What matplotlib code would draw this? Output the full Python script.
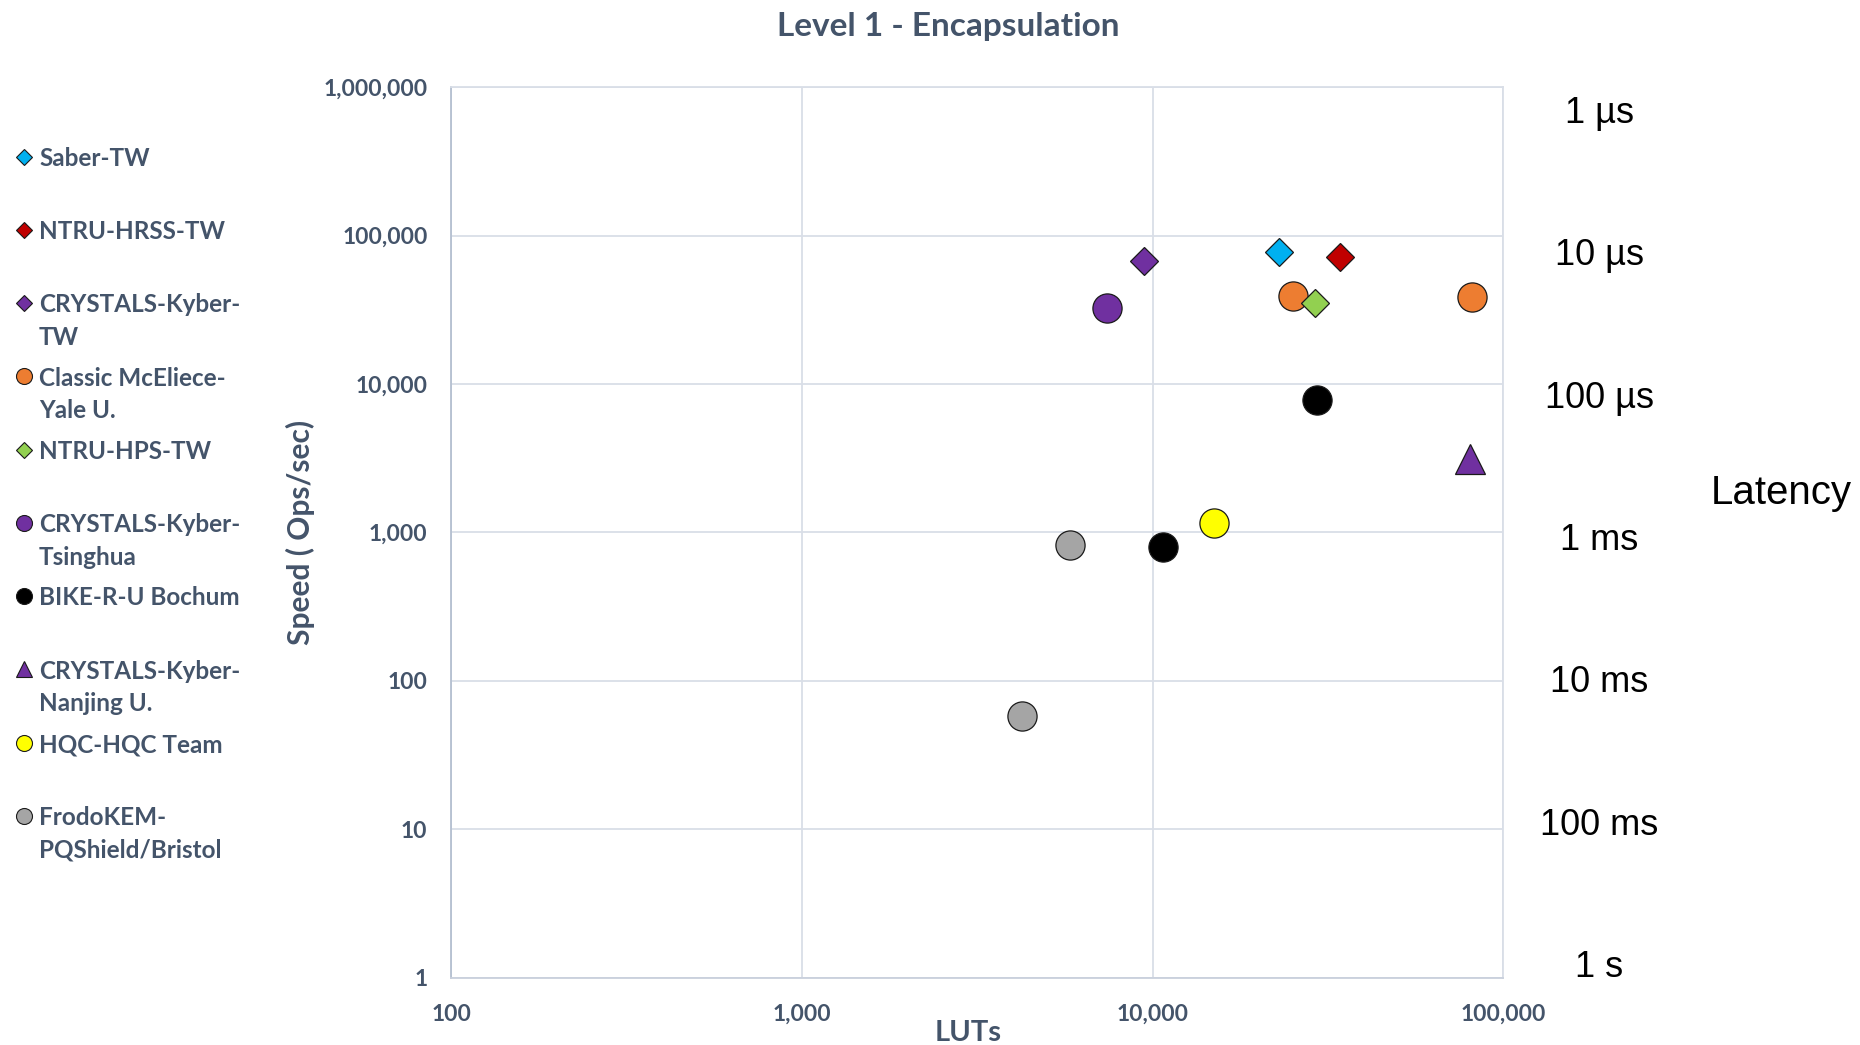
import matplotlib
matplotlib.use("Agg")
import matplotlib.pyplot as plt
from matplotlib.ticker import FuncFormatter, FixedLocator, NullLocator

# ── Dati (LUTs, Ops/sec) ─────────────────────────────────────────────────────

NAMES = ["Saber-TW", "NTRU-HRSS-TW", "CRYSTALS-Kyber-\nTW", "Classic McEliece-\nYale U.",
         "NTRU-HPS-TW", "CRYSTALS-Kyber-\nTsinghua", "BIKE-R-U Bochum",
         "CRYSTALS-Kyber-\nNanjing U.", "HQC-HQC Team", "FrodoKEM-\nPQShield/Bristol"]
LUTS = [[22900], [34300], [9460], [25200, 81300], [29100], [7390],
        [29400, 10700], [80100], [15000], [5800, 4240]]
OPS = [[78000], [71600], [67600], [39400, 38600], [35100], [32700],
       [7830, 798], [3130], [1150], [822, 58]]
MARKERS = ["D", "D", "D", "o", "D", "o", "o", "^", "o", "o"]
COLORS = ["#00B0F0", "#C00000", "#7030A0", "#ED7D31", "#92D050", "#7030A0",
          "#000000", "#7030A0", "#FFFF00", "#A5A5A5"]

X_TICKS = [100, 1000, 10000, 100000]
Y_TICKS = [1, 10, 100, 1000, 10000, 100000, 1000000]
LATENCY = ["1 µs", "10 µs", "100 µs", "1 ms", "10 ms", "100 ms", "1 s"]

TXT = "#44546A"
GRID = "#D9DEE7"
BOLD = dict(family="Lato", fontweight="bold", color=TXT)
MS = {"o": 21, "D": 14.5, "^": 21}
MS_LEG = {"o": 11.5, "D": 8, "^": 11.5}

fig = plt.figure(figsize=(18.6, 10.45), dpi=100)
ax = fig.add_axes([0.2425, 0.0644, 0.5658, 0.8521])

for xs, ys, m, c in zip(LUTS, OPS, MARKERS, COLORS):
    ax.plot(xs, ys, linestyle="none", marker=m, ms=MS[m], mfc=c,
            mec="#1a1a1a", mew=0.9, zorder=3)

ax.set_xscale("log")
ax.set_yscale("log")
ax.set_xlim(X_TICKS[0], X_TICKS[-1])
ax.set_ylim(Y_TICKS[0], Y_TICKS[-1])
ax.xaxis.set_major_locator(FixedLocator(X_TICKS))
ax.yaxis.set_major_locator(FixedLocator(Y_TICKS))
ax.xaxis.set_minor_locator(NullLocator())
ax.yaxis.set_minor_locator(NullLocator())
fmt = FuncFormatter(lambda v, p: f"{v:,.0f}")
ax.xaxis.set_major_formatter(fmt)
ax.yaxis.set_major_formatter(fmt)
ax.tick_params(length=0, pad=17)
ax.tick_params(axis="x", pad=19)
for lab in ax.get_xticklabels() + ax.get_yticklabels():
    lab.set_fontsize(16.5)
    lab.set(**BOLD)

ax.grid(True, color=GRID, lw=1.3, zorder=0)
for s in ax.spines.values():
    s.set_color(GRID)
    s.set_linewidth(1.3)
ax.spines["left"].set_color("#B4BFD0")
ax.spines["bottom"].set_color("#C9D0DC")

ax.set_ylabel("Speed ( Ops/sec)", fontsize=21.5, **BOLD)
ax.yaxis.set_label_coords(-0.129, 0.5)
ax.set_xlabel("LUTs", fontsize=21, **BOLD)
ax.xaxis.set_label_coords(0.491, -0.047)

fig.text(0.5097, 0.975, "Level 1 - Encapsulation", ha="center", va="center",
         fontsize=24, **BOLD)

# etichette di latenza a destra
for i, lab in enumerate(LATENCY):
    ax.text(1.091, 0.9703 - i * 0.1598, lab, transform=ax.transAxes,
            ha="center", va="center", fontsize=26, family="Liberation Sans",
            color="black")
fig.text(0.9575, 0.528, "Latency", ha="center", va="center", fontsize=29,
         family="Liberation Sans", color="black")

# legenda manuale a sinistra
lax = fig.add_axes([0, 0.2191, 0.14, 0.6311])
lax.set_xlim(0, 1)
lax.set_ylim(len(NAMES) - 1, 0)
lax.axis("off")
for i, (name, m, c) in enumerate(zip(NAMES, MARKERS, COLORS)):
    lax.plot([0.091], [i], linestyle="none", marker=m, ms=MS_LEG[m], mfc=c,
             mec="#1a1a1a", mew=0.8, clip_on=False)
    lax.annotate(name, xy=(0.15, i), xytext=(0, 7), textcoords="offset points",
                 ha="left", va="top", fontsize=17.5, linespacing=1.5, **BOLD)

fig.savefig("out.png", dpi=100)
